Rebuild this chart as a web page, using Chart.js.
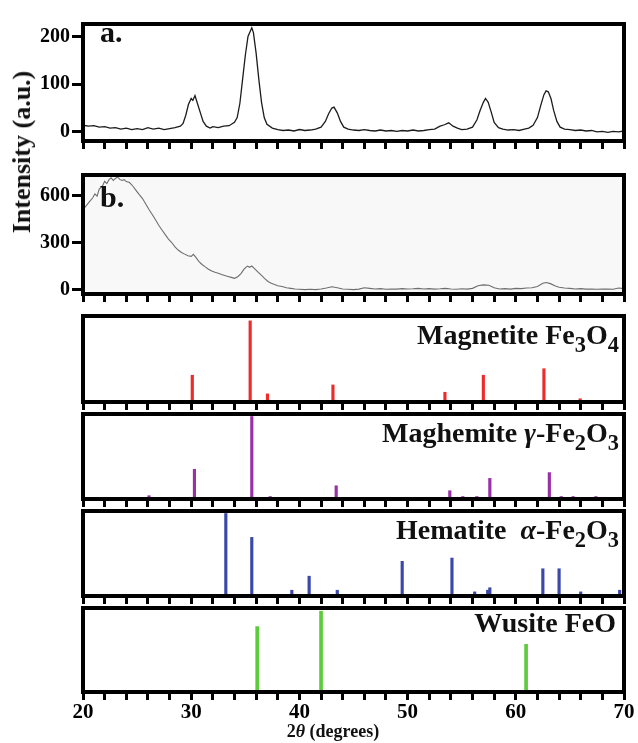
<!DOCTYPE html>
<html>
<head>
<meta charset="utf-8">
<script src="https://cdn.jsdelivr.net/npm/chart.js@4.4.1/dist/chart.umd.min.js"></script>
<style>
  body { margin: 0; background: #fff; width: 638px; height: 743px; overflow: hidden; position: relative; }
  canvas { position: absolute; left: 0; }
  .lbl { position: absolute; font-family: "Liberation Serif", "Times New Roman", serif; font-weight: bold; color: #111; white-space: nowrap; line-height: 1; }
  .lbl sub { font-size: 0.8em; vertical-align: -0.35em; line-height: 0; }
  .r { text-align: right; right: 19px; font-size: 28px; }
</style>
</head>
<body>
<canvas id="pa" width="638" height="145" style="top:10px"></canvas>
<canvas id="pb" width="638" height="147" style="top:161px"></canvas>
<canvas id="pm" width="638" height="98" style="top:314px"></canvas>
<canvas id="pg" width="638" height="97" style="top:412px"></canvas>
<canvas id="ph" width="638" height="97" style="top:509px"></canvas>
<canvas id="pw" width="638" height="137" style="top:606px"></canvas>

<div class="lbl" style="left:100px;top:17px;font-size:30px">a.</div>
<div class="lbl" style="left:100px;top:182px;font-size:30px">b.</div>
<div class="lbl r" style="top:321px">Magnetite Fe<sub>3</sub>O<sub>4</sub></div>
<div class="lbl r" style="top:419px">Maghemite <i>γ</i>-Fe<sub>2</sub>O<sub>3</sub></div>
<div class="lbl r" style="top:516px">Hematite&nbsp;&nbsp;<i>α</i>-Fe<sub>2</sub>O<sub>3</sub></div>
<div class="lbl r" style="top:609px;right:22px">Wusite FeO</div>
<div class="lbl" style="left:22px;top:152px;font-size:26px;transform:translate(-50%,-50%) rotate(-90deg)">Intensity (a.u.)</div>
<div class="lbl" style="left:333px;top:722px;font-size:18px;transform:translateX(-50%)">2<i>θ</i> (degrees)</div>

<script>
// tick labels
const xTickLabels = [20, 30, 40, 50, 60, 70];
const aTicks = [0, 100, 200];
const bTicks = [0, 300, 600];

// pattern a
const aTheta = [20.0, 20.5, 21.0, 21.5, 22.0, 22.5, 23.0, 23.5, 24.0, 24.5, 25.0, 25.5, 26.0, 26.5, 27.0, 27.5, 28.0, 28.5,
  29.0, 29.25, 29.5, 29.75, 30.0, 30.15, 30.35, 30.6, 30.85, 31.1, 31.4, 31.75,
  32.0, 32.5, 33.0, 33.5, 34.0,
  34.25, 34.5, 34.75, 35.0, 35.25, 35.5, 35.6, 35.75, 36.0, 36.25, 36.5, 36.75, 37.0,
  37.5, 38.0, 38.5, 39.0, 39.5, 40.0, 40.5, 41.0, 41.5, 42.0,
  42.4, 42.7, 43.0, 43.2, 43.5, 43.8, 44.1,
  44.5, 45.0, 45.5, 46.0, 46.5, 47.0, 47.5, 48.0, 48.5, 49.0, 49.5, 50.0, 50.5, 51.0, 51.5, 52.0, 52.5,
  53.0, 53.4, 53.8, 54.2, 54.6,
  55.0, 55.5, 56.0,
  56.4, 56.7, 57.0, 57.2, 57.45, 57.75, 58.0, 58.4, 58.8,
  59.3, 59.8, 60.3, 60.8,
  61.2, 61.6, 62.0, 62.3, 62.6, 62.8, 63.0, 63.25, 63.5, 63.8, 64.1,
  64.5, 65.0, 65.5, 66.0, 66.5, 67.0, 67.5, 68.0, 68.5, 69.0, 69.5, 70.0];
const aCounts = [14, 12, 13, 10, 11, 8, 9, 6, 8, 5, 7, 5, 9, 6, 8, 5, 7, 9,
  12, 18, 35, 58, 70, 66, 76, 58, 40, 22, 12, 8,
  11, 9, 12, 13, 20,
  30, 60, 110, 160, 200, 213, 218, 208, 165, 110, 62, 30, 16,
  8, 5, 3, 4, 2, 5, 3, 4, 6, 10,
  22, 38, 50, 52, 40, 22, 10,
  6, 4, 3, 5, 3, 2, 4, 2, 3, 1, 3, 2, 4, 2, 3, 5, 6,
  12, 15, 19, 12, 8,
  5, 6, 10,
  25, 45, 62, 70, 62, 40, 20, 9, 6,
  4, 5, 3, 6,
  8, 14, 30, 55, 78, 86, 84, 70, 45, 22, 10,
  6, 5, 3, 4, 2, 3, 0, 1, -1, 1, 0, 2];

// pattern b
const bTheta = [20.0, 20.3, 20.6, 20.9, 21.1, 21.3, 21.5, 21.8, 22.0, 22.2, 22.4, 22.6, 22.8, 23.0, 23.2, 23.4, 23.6, 23.8, 24.0,
  24.3, 24.6, 24.9, 25.2, 25.5, 25.8, 26.1, 26.4, 26.7, 27.0, 27.3, 27.6, 27.9, 28.2, 28.5, 28.8, 29.1, 29.4, 29.7, 30.0,
  30.2, 30.4,
  30.7, 31.0, 31.3, 31.6, 31.9, 32.2, 32.5, 32.8, 33.1, 33.4, 33.7, 34.0, 34.3, 34.6, 34.9, 35.2,
  35.4, 35.6,
  35.9, 36.2, 36.5, 36.8, 37.1, 37.4, 37.7, 38.0,
  38.4, 38.8, 39.2, 39.6,
  40.0, 40.5, 41.0, 41.5, 42.0, 42.5, 43.0, 43.5, 44.0, 44.5, 45.0, 45.5, 46.0, 46.5, 47.0, 47.5, 48.0, 48.5, 49.0, 49.5,
  50.0, 50.5, 51.0, 51.5, 52.0, 52.5, 53.0, 53.5, 54.0, 54.5, 55.0, 55.5, 56.0, 56.5, 57.0, 57.5, 58.0, 58.5, 59.0, 59.5,
  60.0, 60.5, 61.0, 61.5, 62.0,
  62.5, 62.8, 63.2, 63.6, 64.0,
  64.5, 65.0, 65.5, 66.0, 66.5, 67.0, 67.5, 68.0, 68.5, 69.0, 69.5, 70.0];
const bCounts = [510, 535, 560, 585, 610, 595, 640, 660, 690, 675, 700, 712, 695, 708, 718, 702, 695, 700, 688,
  682, 660, 632, 605, 580, 545, 510, 478, 445, 410, 380, 350, 322, 300, 272, 252, 236, 226, 216, 212,
  225, 208,
  180, 160, 145, 130, 118, 110, 104, 96, 90, 84, 78, 72, 82, 102, 132, 150,
  142, 150,
  130, 110, 90, 70, 52, 40, 32, 25,
  20, 12, 8, 4,
  2, 0, 2, 0, 4, 10, 18, 12, 4, 2, 0, 3, 12, 8, 4, 6, 2, 4, 3, 6,
  4, 5, 8, 4, 6, 3, 5, 8, 4, 2, 5, 3, 8, 25, 30, 28, 12, 4, 6, 3,
  8, 6, 10, 12, 20,
  40, 45, 38, 25, 15,
  10, 8, 4, 6, 3, 4, 2, 3, 4, 2, 10, 6];

// reference lines (relative intensity)
const magnetiteTheta = [30.1, 35.45, 37.05, 43.1, 53.45, 57.0, 62.6, 65.95];
const magnetiteInt = [33, 100, 10, 21, 12, 33, 41, 4];
const maghemiteTheta = [26.1, 30.3, 32.0, 34.0, 35.6, 37.3, 39.1, 40.4, 43.4, 44.9, 46.1, 50.0, 53.9, 55.1, 56.4, 57.6, 59.7, 60.8, 63.1, 64.2, 65.3, 67.4, 68.5, 69.5];
const maghemiteInt = [4, 36, 2, 2, 100, 3, 2, 2, 16, 2, 2, 2, 10, 3, 3, 25, 2, 2, 32, 3, 3, 3, 2, 2];
const hematiteTheta = [33.2, 35.6, 39.3, 40.9, 43.5, 49.5, 54.1, 56.2, 57.4, 57.6, 62.5, 64.0, 66.0, 69.6];
const hematiteInt = [100, 71, 7, 24, 7, 42, 46, 5, 7, 10, 33, 33, 5, 7];
const wusiteTheta = [36.1, 42.0, 60.95];
const wusiteInt = [81, 100, 59];

Chart.defaults.font.family = '"Liberation Serif", "Times New Roman", serif';
Chart.defaults.font.weight = "bold";
Chart.defaults.color = "#000";

const pts = (xs, ys) => xs.map((x, i) => ({ x: x, y: ys[i] }));

// box round the plot area, optional fill behind the data
const frame = {
  id: "frame",
  beforeDatasetsDraw(chart, args, opts) {
    if (!opts.fill) return;
    const a = chart.chartArea, ctx = chart.ctx;
    ctx.save();
    ctx.fillStyle = opts.fill;
    ctx.fillRect(a.left, a.top, a.right - a.left, a.bottom - a.top);
    ctx.restore();
  },
  afterDraw(chart) {
    const a = chart.chartArea, ctx = chart.ctx;
    ctx.save();
    ctx.lineWidth = 4;
    ctx.strokeStyle = "#000";
    ctx.strokeRect(a.left, a.top, a.right - a.left, a.bottom - a.top);
    ctx.restore();
  },
};

function xAxis(labels, h) {
  return {
    type: "linear",
    min: 20,
    max: 70,
    offset: false,
    ticks: {
      stepSize: 2,
      autoSkip: false,
      maxRotation: 0,
      padding: 0,
      font: { size: 21, weight: "bold" },
      callback: (v) => (labels && xTickLabels.includes(v) ? v : ""),
    },
    grid: { offset: false, drawOnChartArea: false, drawTicks: true, tickLength: 8, lineWidth: 3, color: "#000" },
    border: { display: false },
    afterFit: (s) => { s.height = h; },
  };
}

function yAxis(min, max, ticks) {
  if (!ticks) {
    return {
      min: min, max: max,
      ticks: { display: false },
      grid: { display: false },
      border: { display: false },
      afterFit: (s) => { s.width = 83; },
    };
  }
  return {
    min: min, max: max,
    afterBuildTicks: (s) => { s.ticks = ticks.map((v) => ({ value: v })); },
    ticks: { padding: 2, font: { size: 20, weight: "bold" } },
    grid: { drawOnChartArea: false, drawTicks: true, tickLength: 11, lineWidth: 3, color: "#000" },
    border: { display: false },
    afterFit: (s) => { s.width = 83; },
  };
}

function baseOptions(x, y, fill) {
  return {
    responsive: false,
    animation: false,
    devicePixelRatio: 1,
    layout: { padding: { top: 2, right: 14, left: 0, bottom: 0 } },
    plugins: { legend: { display: false }, tooltip: { enabled: false }, frame: { fill: fill } },
    scales: { x: x, y: y },
  };
}

// a.
new Chart(document.getElementById("pa"), {
  type: "line",
  data: { datasets: [{ data: pts(aTheta, aCounts), borderColor: "#1c1c1c", borderWidth: 1.3, pointRadius: 0, tension: 0 }] },
  options: baseOptions(xAxis(false, 10), yAxis(-19, 226, aTicks)),
  plugins: [frame],
});

// b.
new Chart(document.getElementById("pb"), {
  type: "line",
  data: { datasets: [{ data: pts(bTheta, bCounts), borderColor: "#6e6e6e", borderWidth: 1.1, pointRadius: 0, tension: 0 }] },
  options: baseOptions(xAxis(false, 10), yAxis(-28, 730, bTicks), "#f8f8f8"),
  plugins: [frame],
});

// reference patterns
function sticks(id, xs, ys, color, ymax, labels, h, w) {
  new Chart(document.getElementById(id), {
    type: "bar",
    data: { datasets: [{ data: pts(xs, ys), backgroundColor: color, barThickness: w, borderWidth: 0, grouped: false }] },
    options: baseOptions(xAxis(labels, h), yAxis(0, ymax, null)),
    plugins: [frame],
  });
}

sticks("pm", magnetiteTheta, magnetiteInt, "#ee2b2b", 106, false, 10, 2.5);
sticks("pg", maghemiteTheta, maghemiteInt, "#9a30a8", 103, false, 10, 2.5);
sticks("ph", hematiteTheta, hematiteInt, "#3a48aa", 103, false, 10, 2.5);
sticks("pw", wusiteTheta, wusiteInt, "#5ccb3c", 104, true, 51, 3);
</script>
</body>
</html>
